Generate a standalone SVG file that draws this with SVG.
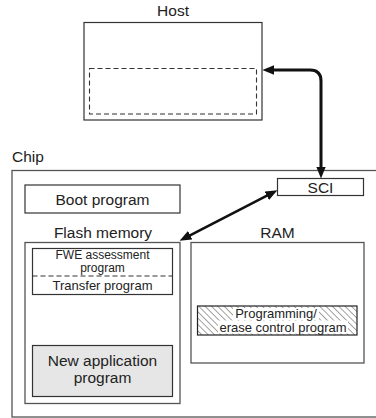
<svg xmlns="http://www.w3.org/2000/svg" width="376" height="418" viewBox="0 0 376 418">
<style>
text{font-family:"Liberation Sans",Arial,sans-serif;fill:#222}
.l{font-size:15.5px}
.s{font-size:13px}
.xs{font-size:12px}
.c{text-anchor:middle}
.box{fill:#fff;stroke:#333;stroke-width:1.2}
.outer{fill:none;stroke:#555;stroke-width:1.3}
.dash{fill:none;stroke:#333;stroke-width:1.1;stroke-dasharray:5,3}
.conn{fill:none;stroke:#111;stroke-width:3}
</style>
<defs>
<marker id="ah" markerUnits="userSpaceOnUse" markerWidth="12" markerHeight="10" refX="2" refY="4" orient="auto-start-reverse" viewBox="0 0 10 8">
<path d="M0,0 L10,4 L0,8 z" fill="#111"/>
</marker>
<pattern id="hatch" width="4.5" height="4.5" patternUnits="userSpaceOnUse" patternTransform="rotate(-45)">
<line x1="0" y1="0" x2="0" y2="4.5" stroke="#333" stroke-width="0.9"/>
</pattern>
</defs>
<g id="host">
<text class="l c" x="173" y="16">Host</text>
<rect class="box" x="84" y="22.5" width="178" height="97.5"/>
<rect class="dash" x="89.5" y="68.5" width="167" height="45.5"/>
</g>
<g id="chip">
<text class="l" x="12" y="161.5">Chip</text>
<rect class="outer" x="12" y="170.5" width="366" height="246.5"/>
</g>
<g id="sci">
<rect class="box" x="277.5" y="178.5" width="86" height="17"/>
<text class="l c" x="320.5" y="193">SCI</text>
</g>
<g id="boot">
<rect class="box" x="25" y="185" width="155" height="28"/>
<text class="l c" x="102.5" y="205">Boot program</text>
</g>
<g id="flash">
<text class="l c" x="103" y="237.5">Flash memory</text>
<rect class="outer" x="25" y="242.5" width="155" height="161"/>
</g>
<g id="fwe">
<rect class="box" x="32.5" y="248.5" width="140" height="46"/>
<line class="dash" x1="32.5" y1="276" x2="172.5" y2="276"/>
<text class="xs c" x="102.5" y="259">FWE assessment</text>
<text class="xs c" x="102.5" y="272">program</text>
<text class="s c" x="102.5" y="290">Transfer program</text>
</g>
<g id="newapp">
<rect class="box" x="32.5" y="345.5" width="140" height="51" style="fill:#e6e6e6"/>
<text class="l c" x="102.5" y="366">New application</text>
<text class="l c" x="102.5" y="382.5">program</text>
</g>
<g id="ram">
<text class="l c" x="277.5" y="237.5">RAM</text>
<rect class="outer" x="191" y="242.5" width="173" height="120.5"/>
</g>
<g id="progerase">
<rect x="197.5" y="306" width="159.5" height="29" fill="url(#hatch)" stroke="#222" stroke-width="1.2"/>
<rect x="233" y="308" width="86" height="12" fill="#fff"/>
<rect x="218" y="320.5" width="130" height="13" fill="#fff"/>
<text class="s c" x="276" y="318">Programming/</text>
<text class="s c" x="283" y="332">erase control program</text>
</g>
<g id="connectors">
<path class="conn" d="M321,169 L321,81 Q321,70 310,70 L272,70" marker-start="url(#ah)" marker-end="url(#ah)"/>
<path class="conn" style="stroke-width:2.6" d="M188.1,236.3 L268.9,194.7" marker-start="url(#ah)" marker-end="url(#ah)"/>
</g>
</svg>
